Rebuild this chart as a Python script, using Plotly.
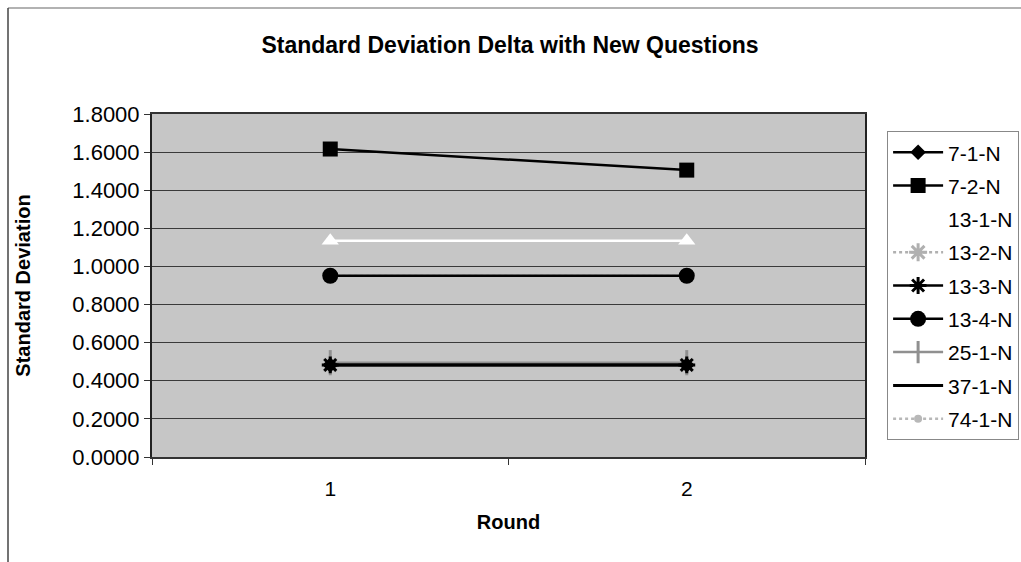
import plotly.graph_objects as go

rounds = ["1", "2"]
series_names = ["7-1-N", "7-2-N", "13-1-N", "13-2-N", "13-3-N", "13-4-N", "25-1-N", "37-1-N", "74-1-N"]
v_7_1 = [0.4830, 0.4830]
v_7_2 = [1.6162, 1.5055]
v_13_1 = [1.1349, 1.1349]
v_13_2 = [0.4830, 0.4830]
v_13_3 = [0.4830, 0.4830]
v_13_4 = [0.9512, 0.9512]
v_25_1 = [0.4950, 0.4950]
v_37_1 = [0.4830, 0.4830]
v_74_1 = [0.9512, 0.9512]
y_ticks = [0, 0.2, 0.4, 0.6, 0.8, 1.0, 1.2, 1.4, 1.6, 1.8]

FONT = "Liberation Sans, Arial, sans-serif"

styles = {
    "7-1-N": dict(values=v_7_1, color="black", width=2.5, symbol="diamond", size=12, rank=1, dash="solid"),
    "7-2-N": dict(values=v_7_2, color="black", width=2.5, symbol="square", size=15, rank=2, dash="solid"),
    "13-1-N": dict(values=v_13_1, color="white", width=2.5, symbol="triangle-up", size=15, rank=3, dash="solid"),
    "13-2-N": dict(values=v_13_2, color="#b0b0b0", width=2.5, symbol="asterisk-open", size=15, rank=4, dash="dot"),
    "13-3-N": dict(values=v_13_3, color="black", width=2.5, symbol="asterisk-open", size=14, rank=5, dash="solid"),
    "13-4-N": dict(values=v_13_4, color="black", width=2.5, symbol="circle", size=16, rank=6, dash="solid"),
    "25-1-N": dict(values=v_25_1, color="#909090", width=2.5, symbol="line-ns-open", size=18, rank=7, dash="solid"),
    "37-1-N": dict(values=v_37_1, color="black", width=3, symbol="line-ew-open", size=9, rank=8, dash="solid"),
    "74-1-N": dict(values=v_74_1, color="#b8b8b8", width=2.5, symbol="circle", size=8, rank=9, dash="dot"),
}

draw_order = ["74-1-N", "13-2-N", "25-1-N", "7-1-N", "37-1-N", "13-3-N", "13-4-N", "13-1-N", "7-2-N"]

fig = go.Figure()
for name in draw_order:
    s = styles[name]
    open_sym = s["symbol"].endswith("open")
    fig.add_trace(go.Scatter(
        x=rounds, y=s["values"], name=name, mode="lines+markers",
        line=dict(color=s["color"], width=s["width"], dash=s["dash"]),
        marker=dict(symbol=s["symbol"], size=s["size"], color=s["color"],
                    line=dict(color=s["color"], width=3 if open_sym else 0)),
        legendrank=s["rank"], legendgroup=name,
    ))

fig.update_layout(
    width=1021, height=562,
    margin=dict(l=152, r=156, t=114, b=105, autoexpand=False),
    paper_bgcolor="white",
    plot_bgcolor="#c6c6c6",
    font=dict(family=FONT, size=21, color="black"),
    title=dict(text="<b>Standard Deviation Delta with New Questions</b>",
               x=(510 / 1021), xanchor="center", y=1 - 45 / 562, yanchor="middle",
               font=dict(size=23, family=FONT)),
    showlegend=True,
    legend=dict(x=1.031, y=0.95, xanchor="left", yanchor="top",
                bordercolor="#888888", borderwidth=1, bgcolor="white",
                font=dict(size=21, family=FONT), tracegroupgap=3,
                itemwidth=50, traceorder="grouped"),
    xaxis=dict(type="category", range=[-0.5, 1.5], showgrid=False,
               showline=True, linecolor="#333333", linewidth=2, mirror=True,
               ticks="outside", tickson="boundaries", ticklen=6, tickcolor="#333333",
               ticklabelstandoff=12,
               title=dict(text="<b>Round</b>", standoff=16, font=dict(size=20)),
               tickfont=dict(size=21)),
    yaxis=dict(range=[0, 1.8], tickvals=y_ticks, tickformat=".4f",
               showgrid=True, gridcolor="#3a3a3a", gridwidth=1,
               showline=True, linecolor="#222222", linewidth=2, mirror=True,
               ticks="outside", ticklen=6, tickcolor="#333333", zeroline=False,
               title=dict(text="<b>Standard Deviation</b>", standoff=36, font=dict(size=20)),
               tickfont=dict(size=22)),
    shapes=[
        dict(type="line", xref="paper", yref="paper",
             x0=(8 - 152) / 713, x1=(1030 - 152) / 713,
             y0=(457 - 8) / 343, y1=(457 - 8) / 343,
             line=dict(color="#999999", width=1.5)),
        dict(type="line", xref="paper", yref="paper",
             x0=(8 - 152) / 713, x1=(8 - 152) / 713,
             y0=(457 - 8) / 343, y1=(457 - 570) / 343,
             line=dict(color="#444444", width=1.5)),
    ],
)

fig.write_html("out.html")
